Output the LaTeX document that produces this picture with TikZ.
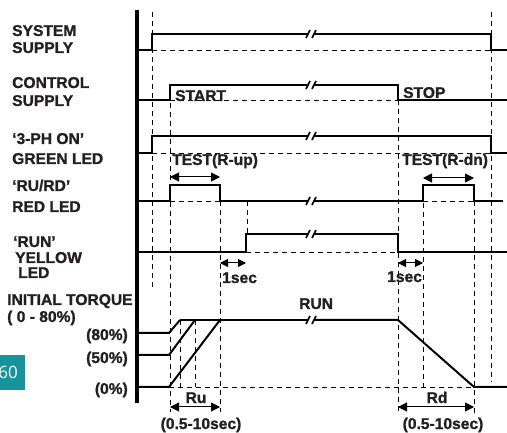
\documentclass[tikz,border=0pt]{standalone}
\usepackage{fontspec}
\setmainfont[BoldFeatures={FakeBold=1.2}]{Liberation Sans}
\newfontfamily\tealfont{Open Sans}
\usetikzlibrary{arrows.meta}
\definecolor{txt}{HTML}{231F20}
\definecolor{teal60}{HTML}{17939B}
\begin{document}
\begin{tikzpicture}[x=1pt,y=-1pt,
  sig/.style={line width=2pt, line join=miter},
  dsh/.style={line width=0.9pt, dash pattern=on 5pt off 4pt},
  lbl/.style={font=\fontsize{15.6}{17}\selectfont\bfseries, text=txt, inner sep=0pt, anchor=base west},
  dimarrow/.style={line width=1pt, {Triangle[length=9pt,width=9pt]}-{Triangle[length=9pt,width=9pt]}},
  shortarrow/.style={line width=1pt, {Triangle[length=8pt,width=8pt]}-{Triangle[length=8pt,width=8pt]}},
  brk/.pic={\draw[line width=1.6pt] (-5,4) -- (-1,-4) (1,4) -- (5,-4);}
]
\useasboundingbox (0,0) rectangle (507,433);

% ---- dashed guides (vertical)
\draw[dsh] (152,12) -- (152,290);
\draw[dsh] (170,85) -- (170,412);
\draw[dsh] (220,201) -- (220,412);
\draw[dsh] (247,201) -- (247,234);
\draw[dsh] (180,320) -- (180,387);
\draw[dsh] (195,320) -- (195,387);
\draw[dsh] (398,100) -- (398,413);
\draw[dsh] (423,185) -- (423,387);
\draw[dsh] (474,201) -- (474,413);
\draw[dsh] (491,12) -- (491,382);
% ---- dashed guides (horizontal)
\draw[dsh] (152,50) -- (491,50);
\draw[dsh] (170,100) -- (398,100);
\draw[dsh] (152,153) -- (491,153);
\draw[dsh] (170,201) -- (220,201);
\draw[dsh] (423,201) -- (474,201);
\draw[dsh] (246,252) -- (398,252);
\draw[dsh] (169,387) -- (473,387);

% ---- axis
\draw[line width=4pt] (137,10) -- (137,403);

% ---- system supply
\draw[sig] (137,50) -- (152,50) -- (152,34) -- (308,34);
\draw[sig] (314,34) -- (491,34) -- (491,50) -- (507,50);
\pic at (311,34) {brk};
% ---- control supply
\draw[sig] (137,100) -- (170,100) -- (170,85) -- (308,85);
\draw[sig] (314,85) -- (398,85) -- (398,100) -- (507,100);
\pic at (311,85) {brk};
% ---- 3-PH ON
\draw[sig] (137,153) -- (152,153) -- (152,136) -- (308,136);
\draw[sig] (314,136) -- (491,136) -- (491,153) -- (507,153);
\pic at (311,136) {brk};
% ---- RU/RD red
\draw[sig] (137,201) -- (170,201) -- (170,185) -- (220,185) -- (220,201) -- (308,201);
\draw[sig] (314,201) -- (423,201) -- (423,185) -- (474,185) -- (474,201) -- (503,201);
\pic at (311,201) {brk};
% ---- RUN yellow
\draw[sig] (137,252) -- (246,252) -- (246,234) -- (308,234);
\draw[sig] (314,234) -- (398,234) -- (398,252) -- (507,252);
\pic at (311,234) {brk};
% ---- torque
\draw[sig] (137,333) -- (169,333) -- (180,320);
\draw[sig] (137,355) -- (169,355) -- (195,320);
\draw[sig] (137,387) -- (169,387) -- (220,320);
\draw[sig] (180,320) -- (308,320);
\draw[sig] (314,320) -- (398,320) -- (474,387) -- (507,387);
\pic at (311,320) {brk};

% ---- dimension arrows
\draw[dimarrow] (170,177) -- (220,177);
\draw[dimarrow] (423,178) -- (474,178);
\draw[shortarrow] (220,263) -- (246,263);
\draw[shortarrow] (398,263) -- (423,263);
\draw[dimarrow] (170,407) -- (220,407);
\draw[dimarrow] (398,407) -- (474,407);

% ---- left labels
\node[lbl] (sys1) at (12,36) {SYSTEM};
\node[lbl] (sys2) at (12,53) {SUPPLY};
\node[lbl] (ctl1) at (12,88) {CONTROL};
\node[lbl] (ctl2) at (12,106) {SUPPLY};
\node[lbl] (grn1) at (12,144) {‘3-PH ON’};
\node[lbl] (grn2) at (12,164) {GREEN LED};
\node[lbl] (red1) at (12,191) {‘RU/RD’};
\node[lbl] (red2) at (12,212) {RED LED};
\node[lbl] (yel1) at (13,247) {‘RUN’};
\node[lbl] (yel2) at (15,263) {YELLOW};
\node[lbl] (yel3) at (18,278) {LED};
\node[lbl] (trq1) at (7,305) {INITIAL TORQUE};
\node[lbl] (trq2) at (7,322) {( 0 - 80\%)};
\node[lbl,anchor=base east] (p80) at (128,340) {(80\%)};
\node[lbl,anchor=base east] (p50) at (128,363) {(50\%)};
\node[lbl,anchor=base east] (p0) at (128,394) {(0\%)};

% ---- in-diagram labels
\node[lbl] (start) at (175,101) {START};
\node[lbl] (stop) at (403,98) {STOP};
\node[lbl] (testup) at (172,165) {TEST(R-up)};
\node[lbl] (testdn) at (402,165) {TEST(R-dn)};
\node[lbl] (sec1) at (222,283) {1sec};
\node[lbl] (sec2) at (387,282) {1sec};
\node[lbl] (run) at (299,309) {RUN};
\node[lbl,anchor=base] (ru) at (196,403) {Ru};
\node[lbl,anchor=base] (rd) at (437,403) {Rd};
\node[lbl,anchor=base] (ruT) at (201,429) {(0.5-10sec)};
\node[lbl,anchor=base] (rdT) at (443,429) {(0.5-10sec)};

% ---- teal page tab
\fill[teal60] (0,355) rectangle (25,390);
\begin{scope}
\clip (0,355) rectangle (25,390);
\node[font=\tealfont\fontsize{17}{17}\selectfont, text=white, inner sep=0pt, anchor=base east] (tab) at (18,379) {60};
\end{scope}
\end{tikzpicture}
\end{document}
